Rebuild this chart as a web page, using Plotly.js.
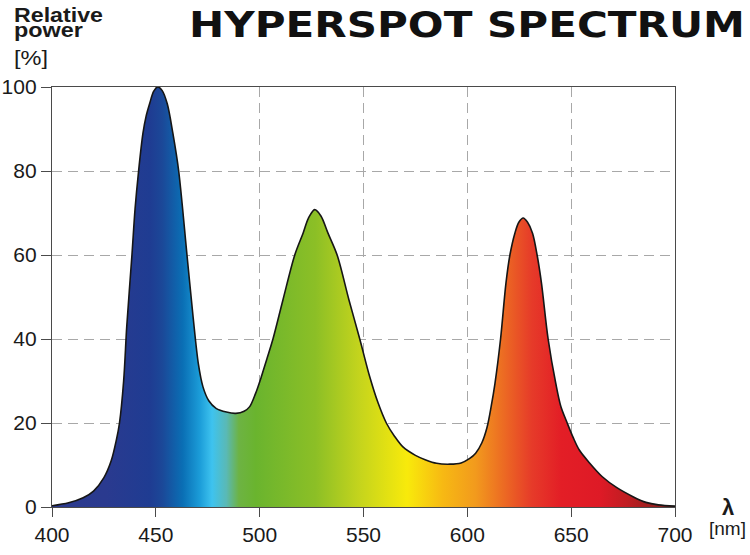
<!DOCTYPE html>
<html>
<head>
<meta charset="utf-8">
<script src="https://cdn.plot.ly/plotly-3.0.1.min.js"></script>
<style>
  html, body { margin: 0; padding: 0; background: #fff; }
  #chart { width: 750px; height: 555px; }
</style>
</head>
<body>
<div id="chart"></div>
<script>
// wavelength (nm) and relative power (%)
const wavelength = [
  400, 408, 415, 420, 425, 428.5, 431, 432.5, 434.5, 436, 438.5, 440, 441.7, 443.8, 445.3, 447,
  449, 451, 453, 455.5, 458.2, 461, 465, 468, 470.5, 472.7, 475.5, 479, 484, 488.5, 492.5,
  495.2, 498, 500.8, 503.5, 506.4, 511.2, 516.9, 520.9, 523.5, 526.5, 529.5, 532.9, 537.3,
  543, 548.2, 553, 557, 561, 565, 569, 575, 580, 585.2, 591.6, 597, 601, 604, 607, 609.5,
  611.5, 613.3, 616, 618.6, 620.5, 622.9, 624.8, 626.9, 629, 631.4, 633.6, 635.7, 638.9,
  642.6, 645, 648.1, 651, 654, 659, 665, 672, 680, 686, 692, 700,
];
const relPower = [
  0.3, 1, 2.2, 3.8, 7, 11, 16, 20, 30, 43, 60, 71, 80, 89, 93, 96,
  99, 100, 99.2, 96, 89, 80, 60, 45, 34, 28.6, 25.3, 23.5, 22.6, 22.3, 22.8,
  23.9, 27, 31, 35.3, 40, 49.3, 60, 65.2, 68.8, 70.8, 69.3, 65.2, 60,
  49.3, 40, 31, 24.8, 20, 16.8, 14.3, 12.3, 11.2, 10.4, 10.2, 10.5, 11.5, 12.8, 15.3, 19,
  24, 29.4, 40, 53.3, 60, 65.2, 67.8, 68.8, 67.8, 65.2, 60, 53.3, 40,
  29.4, 24, 20, 16.5, 13.5, 10.4, 7.2, 4.6, 2.4, 1.1, 0.5, 0.2,
];

const xTicks = [400, 450, 500, 550, 600, 650, 700];
const yTicks = [0, 20, 40, 60, 80, 100];

// spectrum colours under the curve, position along 400..700 nm
const spectrumStops = [
  [0, "#2c3a8e"], [0.087, "#2a3a8f"], [0.157, "#1f3c92"], [0.177, "#1b4898"],
  [0.21, "#0a6fb5"], [0.237, "#1b9cd8"], [0.257, "#3ec3ef"], [0.28, "#5ab9b5"],
  [0.3, "#6db343"], [0.327, "#6ab42e"], [0.423, "#8cbf26"], [0.493, "#c4d41d"],
  [0.57, "#f8ea0b"], [0.627, "#f7b913"], [0.68, "#f29a1d"], [0.733, "#eb6224"],
  [0.77, "#e63b29"], [0.817, "#e31e26"], [0.88, "#de1a26"], [0.923, "#c01d22"],
  [0.963, "#9a1f1e"], [1, "#8a1c1c"],
];

const TEXT = "#1a1a1a";
const AXIS = "#4a4a4a";
const GRID = "#a8a8a8";
const SANS = "Liberation Sans, Arial, sans-serif";

const spectrum = {
  x: wavelength,
  y: relPower,
  mode: "lines",
  line: { color: "#161616", width: 1.6, shape: "spline", smoothing: 0.9 },
  fill: "tozeroy",
  fillgradient: {
    type: "horizontal",
    colorscale: spectrumStops,
    start: 400,
    stop: 700,
  },
  hoverinfo: "skip",
  showlegend: false,
};

const label = (text, x, y, size, xanchor, extra = {}) => ({
  xref: "paper",
  yref: "paper",
  x,
  y,
  text,
  showarrow: false,
  xanchor,
  yanchor: "middle",
  align: "left",
  font: { family: SANS, size, color: TEXT },
  ...extra,
});

const axisStyle = {
  ticks: "outside",
  tickcolor: AXIS,
  tickfont: { family: SANS, size: 21, color: TEXT },
  showline: true,
  linecolor: AXIS,
  linewidth: 1.2,
  mirror: true,
  showgrid: true,
  gridcolor: GRID,
  gridwidth: 1,
  griddash: "10px,6px",
  zeroline: false,
  fixedrange: true,
};

const layout = {
  width: 750,
  height: 555,
  paper_bgcolor: "#fff",
  plot_bgcolor: "#fff",
  margin: { t: 87, b: 48, l: 52, r: 75 },
  showlegend: false,
  xaxis: { ...axisStyle, range: [400, 700], tickvals: xTicks, ticklen: 9 },
  yaxis: { ...axisStyle, range: [0, 100], tickvals: yTicks, ticklen: 10 },
  annotations: [
    label("HYPERSPOT SPECTRUM", 0.217, 1.1486, 35, "left", {
      font: { family: "DejaVu Sans, sans-serif", size: 35, color: "#111", weight: 700 },
    }),
    label("<b>Relative</b>", -0.0635, 1.1705, 20, "left"),
    label("<b>power</b>", -0.0635, 1.135, 20, "left"),
    label("[%]", -0.0635, 1.0699, 20, "left"),
    label("<b>λ</b>", 1.085, 0.0, 22, "center"),
    label("[nm]", 1.085, -0.051, 19, "center"),
  ],
};

// the reference lettering is wider than any installed face, so stretch it
const stretchTo = { 0: 556, 1: 89, 2: 69, 3: 34 };

Plotly.newPlot("chart", [spectrum], layout, { displayModeBar: false, staticPlot: true }).then((gd) => {
  Object.entries(stretchTo).forEach(([idx, w]) => {
    const t = gd.querySelector(`.annotation[data-index="${idx}"] .annotation-text`);
    if (!t) return;
    t.setAttribute("textLength", w);
    t.setAttribute("lengthAdjust", "spacingAndGlyphs");
  });
});
</script>
</body>
</html>
